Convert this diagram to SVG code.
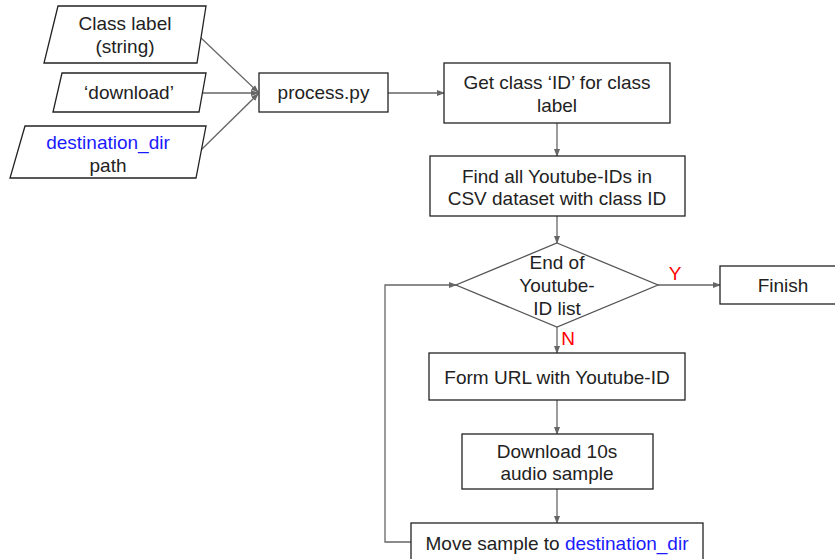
<svg xmlns="http://www.w3.org/2000/svg" width="835" height="559" viewBox="0 0 835 559">
<style>
.box{fill:#fff;stroke:#222;stroke-width:1.3}
.t{font-family:"Liberation Sans",Arial,sans-serif;font-size:19px;fill:#222;text-anchor:middle}
.b{fill:#1a1aff}
.r{font-family:"Liberation Sans",Arial,sans-serif;font-size:19px;fill:#ff0000;text-anchor:middle}
.c{fill:none;stroke:#666;stroke-width:1.3}
</style>
<defs>
<marker id="ah" markerWidth="8" markerHeight="6" refX="7" refY="3" orient="auto" markerUnits="userSpaceOnUse">
<path d="M0,0 L8,3 L0,6 Z" fill="#666"/>
</marker>
</defs>
<rect width="835" height="559" fill="#fff"/>
<g id="connectors">
<line class="c" x1="200" y1="37" x2="258" y2="92" marker-end="url(#ah)"/>
<line class="c" x1="203" y1="93" x2="258" y2="93" marker-end="url(#ah)"/>
<line class="c" x1="200" y1="151" x2="258" y2="94" marker-end="url(#ah)"/>
<line class="c" x1="388" y1="93" x2="444" y2="93" marker-end="url(#ah)"/>
<line class="c" x1="557" y1="123" x2="557" y2="156" marker-end="url(#ah)"/>
<line class="c" x1="557" y1="216" x2="557" y2="243" marker-end="url(#ah)"/>
<line class="c" x1="658" y1="285" x2="720" y2="285" marker-end="url(#ah)"/>
<line class="c" x1="557" y1="327" x2="557" y2="353" marker-end="url(#ah)"/>
<line class="c" x1="557" y1="400" x2="557" y2="434" marker-end="url(#ah)"/>
<line class="c" x1="557" y1="489" x2="557" y2="523" marker-end="url(#ah)"/>
<polyline class="c" points="411,542 385,542 385,285 456,285" marker-end="url(#ah)"/>
<text class="r" x="675" y="280">Y</text>
<text class="r" x="568" y="345">N</text>
</g>
<g id="in-class">
<polygon class="box" points="58,6 206,6 197,63 44,63"/>
<text class="t" x="125" y="30">Class label</text>
<text class="t" x="125" y="53">(string)</text>
</g>
<g id="in-download">
<polygon class="box" points="62,73 206,73 199,112 53,112"/>
<text class="t" x="129" y="99">‘download’</text>
</g>
<g id="in-dest">
<polygon class="box" points="25,126 206,126 196,178 10,178"/>
<text class="t b" x="108" y="149">destination_dir</text>
<text class="t" x="108" y="172">path</text>
</g>
<g id="process">
<rect class="box" x="259" y="73" width="129" height="39"/>
<text class="t" x="323.5" y="99">process.py</text>
</g>
<g id="get-class">
<rect class="box" x="444" y="63" width="226" height="60"/>
<text class="t" x="557" y="89">Get class ‘ID’ for class</text>
<text class="t" x="557" y="112">label</text>
</g>
<g id="find-ids">
<rect class="box" x="430" y="156" width="255" height="60"/>
<text class="t" x="557" y="183">Find all Youtube-IDs in</text>
<text class="t" x="557" y="205">CSV dataset with class ID</text>
</g>
<g id="decision">
<polygon class="box" points="557,243 658,285 557,327 456,285" style="stroke:#555"/>
<text class="t" x="557" y="269">End of</text>
<text class="t" x="557" y="292">Youtube-</text>
<text class="t" x="557" y="315">ID list</text>
</g>
<g id="finish">
<rect class="box" x="720" y="266" width="125" height="38"/>
<text class="t" x="783" y="292">Finish</text>
</g>
<g id="form-url">
<rect class="box" x="429" y="353" width="256" height="47"/>
<text class="t" x="557" y="384">Form URL with Youtube-ID</text>
</g>
<g id="download">
<rect class="box" x="462" y="434" width="191" height="55"/>
<text class="t" x="557" y="458">Download 10s</text>
<text class="t" x="557" y="480">audio sample</text>
</g>
<g id="move">
<rect class="box" x="411" y="523" width="292" height="50"/>
<text class="t" x="557" y="550">Move sample to <tspan class="b">destination_dir</tspan></text>
</g>
</svg>
